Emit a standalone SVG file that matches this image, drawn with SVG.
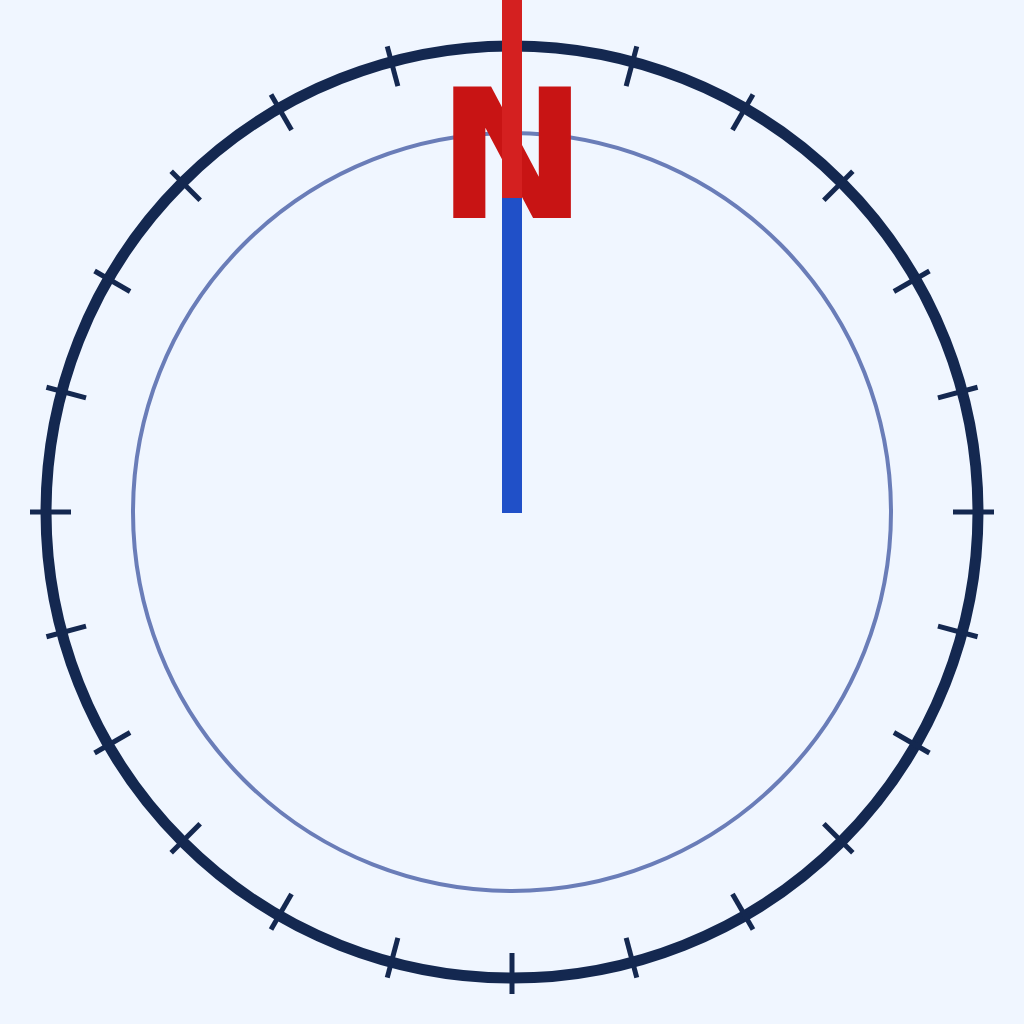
<svg xmlns="http://www.w3.org/2000/svg" xmlns:xlink="http://www.w3.org/1999/xlink" width="1024" height="1024" viewBox="0 0 1024 1024">
<style>
.tick{stroke:#142850;stroke-width:5}
.outer{fill:none;stroke:#142850;stroke-width:11}
.inner{fill:none;stroke:#6a7db8;stroke-width:4}
.label{font-family:"DejaVu Sans",sans-serif;font-weight:bold;font-size:180px;fill:#c81414}
</style>
<defs>
<line id="t" class="tick" x1="512" y1="30" x2="512" y2="71"/>
</defs>
<rect width="1024" height="1024" fill="#f0f6ff"/>
<g id="dial">
<circle class="outer" cx="512" cy="512" r="466"/>
<circle class="inner" cx="512" cy="512" r="379"/>
</g>
<g id="ticks">
<use xlink:href="#t"/>
<use xlink:href="#t" transform="rotate(15 512 512)"/>
<use xlink:href="#t" transform="rotate(30 512 512)"/>
<use xlink:href="#t" transform="rotate(45 512 512)"/>
<use xlink:href="#t" transform="rotate(60 512 512)"/>
<use xlink:href="#t" transform="rotate(75 512 512)"/>
<use xlink:href="#t" transform="rotate(90 512 512)"/>
<use xlink:href="#t" transform="rotate(105 512 512)"/>
<use xlink:href="#t" transform="rotate(120 512 512)"/>
<use xlink:href="#t" transform="rotate(135 512 512)"/>
<use xlink:href="#t" transform="rotate(150 512 512)"/>
<use xlink:href="#t" transform="rotate(165 512 512)"/>
<use xlink:href="#t" transform="rotate(180 512 512)"/>
<use xlink:href="#t" transform="rotate(195 512 512)"/>
<use xlink:href="#t" transform="rotate(210 512 512)"/>
<use xlink:href="#t" transform="rotate(225 512 512)"/>
<use xlink:href="#t" transform="rotate(240 512 512)"/>
<use xlink:href="#t" transform="rotate(255 512 512)"/>
<use xlink:href="#t" transform="rotate(270 512 512)"/>
<use xlink:href="#t" transform="rotate(285 512 512)"/>
<use xlink:href="#t" transform="rotate(300 512 512)"/>
<use xlink:href="#t" transform="rotate(315 512 512)"/>
<use xlink:href="#t" transform="rotate(330 512 512)"/>
<use xlink:href="#t" transform="rotate(345 512 512)"/>
</g>
<g id="north">
<text class="label" x="512" y="218" text-anchor="middle">N</text>
</g>
<g id="needle">
<rect x="502" y="198" width="20" height="315" fill="#2050c8"/>
<rect x="502" y="0" width="20" height="198" fill="#d42020"/>
</g>
</svg>
